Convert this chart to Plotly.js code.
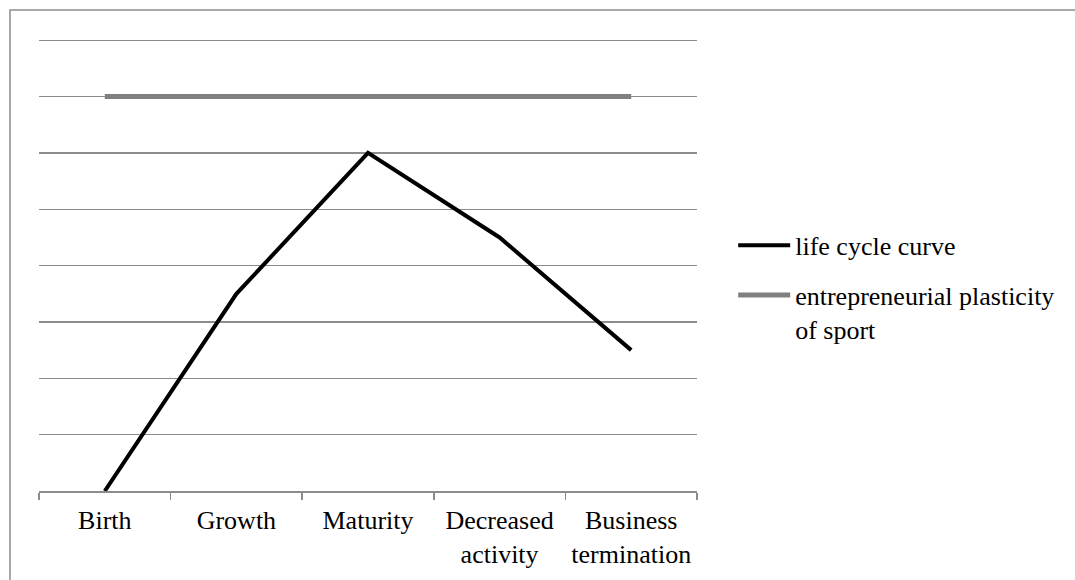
<!DOCTYPE html>
<html>
<head>
<meta charset="utf-8">
<script src="https://cdn.plot.ly/plotly-3.0.1.min.js"></script>
<style>
  html, body { margin: 0; padding: 0; background: #fff; }
  #chart { width: 1075px; height: 580px; }
</style>
</head>
<body>
<div id="chart"></div>
<script>
const categories = ["Birth", "Growth", "Maturity", "Decreased<br>activity", "Business<br>termination"];
const lifeCycle = [0, 3.5, 6, 4.5, 2.5];
const plasticity = [7, 7, 7, 7, 7];
const seriesNames = ["life cycle curve", "entrepreneurial plasticity<br>of sport"];

const font = "Liberation Serif, Times New Roman, serif";

const traces = [
  {
    x: categories, y: lifeCycle, name: seriesNames[0], type: "scatter", mode: "lines",
    line: { color: "#000000", width: 4 }, legendgroup: "a"
  },
  {
    x: categories, y: plasticity, name: seriesNames[1], type: "scatter", mode: "lines",
    line: { color: "#808080", width: 5 }, legendgroup: "b"
  }
];

// plot area: 38px top margin, 453px tall; y range slightly above 8 so the top gridline is drawn
const layout = {
  width: 1075, height: 580,
  margin: { l: 39, r: 378, t: 38, b: 89 },
  paper_bgcolor: "#ffffff", plot_bgcolor: "#ffffff",
  font: { family: font, size: 26, color: "#000000" },
  showlegend: true,
  legend: {
    x: 1.055, xanchor: "left", y: 0.5943, yanchor: "top",
    valign: "top", traceorder: "grouped", tracegroupgap: 13,
    font: { family: font, size: 26, color: "#000000" },
    bgcolor: "rgba(0,0,0,0)", itemwidth: 52
  },
  xaxis: {
    type: "category", range: [-0.5, 4.5], fixedrange: true,
    showline: true, linecolor: "#8c8c8c", linewidth: 1.5,
    ticks: "outside", tickson: "boundaries", ticklen: 7, tickcolor: "#8c8c8c", tickwidth: 1.5,
    ticklabelstandoff: 5,
    showgrid: false, zeroline: false,
    tickfont: { family: font, size: 26, color: "#000000" }
  },
  yaxis: {
    range: [0, 8.04], dtick: 1, tick0: 0, fixedrange: true,
    showgrid: true, gridcolor: "#8c8c8c", gridwidth: 1.3,
    showticklabels: false, ticks: "", zeroline: false, showline: false
  },
  shapes: [
    {
      type: "rect", xref: "paper", yref: "paper",
      x0: -0.0441, x1: 2, y0: -1, y1: 1.0618,
      line: { color: "#8c8c8c", width: 1.5 }, fillcolor: "rgba(0,0,0,0)", layer: "below"
    }
  ]
};

Plotly.newPlot("chart", traces, layout, { displayModeBar: false, staticPlot: true });
</script>
</body>
</html>
